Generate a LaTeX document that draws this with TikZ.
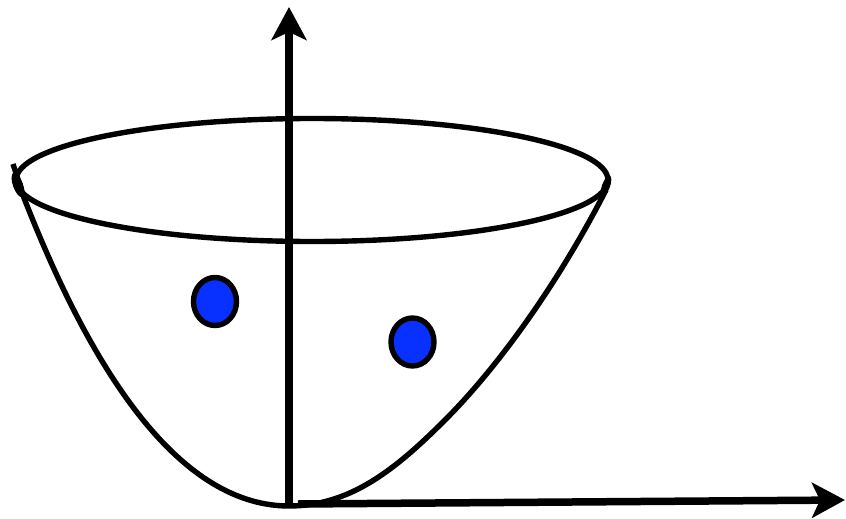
\documentclass[tikz,border=0pt]{standalone}
\usetikzlibrary{arrows.meta,shapes.geometric}
\definecolor{dotblue}{RGB}{8,48,255}
\tikzset{
  curve/.style={line width=5.4pt,black},
  axis/.style={line width=7.5pt,black,-{Stealth[length=33pt,width=35pt,inset=8pt]}},
  dot/.style={ellipse,draw=black,line width=5.4pt,fill=dotblue,minimum width=43pt,minimum height=48pt,inner sep=0pt},
  rimshape/.style={ellipse,draw=black,line width=5.4pt,minimum width=592pt,minimum height=123pt,inner sep=0pt},
  blob/.style={ellipse,fill=black,inner sep=0pt}
}
\begin{document}
\begin{tikzpicture}[x=1pt,y=-1pt,line join=round]
\useasboundingbox (0,0) rectangle (846,519);
\fill[white] (0,0) rectangle (846,519);
\coordinate (rimL) at (13,164);
\coordinate (bottom) at (289,506);
\coordinate (rimR) at (606,190);
\coordinate (yS) at (289,506);
\coordinate (yE) at (289,7);
\coordinate (xS) at (298,504);
\coordinate (xE) at (845,500);
\draw[curve] (rimL) -- (24,198)
  .. controls (72,320) and (160,506) .. (bottom)
  .. controls (350,506) and (395,470) .. (445,420) .. controls (500,365) and (560,280) .. (rimR);
\node[rimshape] (rim) at (312,180) {};
\node[blob,minimum width=10pt,minimum height=26pt,rotate=20] (blobL) at (18,185) {};
\node[blob,minimum width=8pt,minimum height=22pt,rotate=-20] (blobR) at (606,186) {};
\draw[axis] (yS) -- (yE);
\draw[axis] (xS) -- (xE);
\node[dot] (d1) at (215,301.5) {};
\node[dot] (d2) at (412.5,342) {};
\end{tikzpicture}
\end{document}
